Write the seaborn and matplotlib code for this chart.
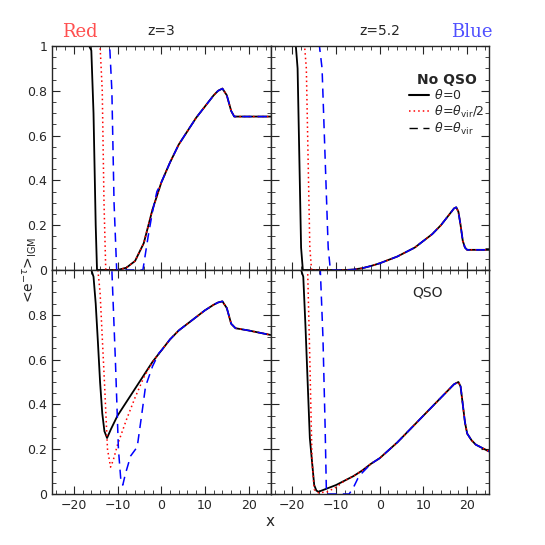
import matplotlib
matplotlib.use("Agg")
import matplotlib.pyplot as plt
import seaborn as sns
import pandas as pd
from matplotlib.lines import Line2D
from matplotlib.ticker import MultipleLocator

sns.set_style("ticks")
plt.rcParams['font.family'] = ['DejaVu Sans']

rise_tl_x = [-8,-6,-4,-2,0,2,4,6,8,10,12,13,14,15,16,16.7,18,25]
rise_tl_y = [0.01,0.04,0.12,0.27,0.39,0.48,0.56,0.62,0.68,0.73,0.78,0.80,0.81,0.78,0.71,0.685,0.685,0.685]
tl_black_x = [-25,-16.5,-16,-15.5,-15,-14.7,-10] + rise_tl_x
tl_black_y = [1,1,0.98,0.7,0.2,0,0] + rise_tl_y
tl_red_x = [-25,-14,-13.5,-13.1,-12.7,-10] + rise_tl_x
tl_red_y = [1,1,0.8,0.3,0,0] + rise_tl_y
tl_blue_x = [-25,-11.8,-11.3,-10.8,-10.2,-4.2,-3,-2,-1] + rise_tl_x[4:]
tl_blue_y = [1,1,0.8,0.3,0,0,0.15,0.26,0.35] + rise_tl_y[4:]

rise_tr_x = [-8,-6,-4,-2,0,2,4,6,8,10,12,14,16,17,17.5,18,18.5,19,19.5,20,25]
rise_tr_y = [0,0.002,0.008,0.018,0.03,0.045,0.06,0.08,0.10,0.13,0.16,0.2,0.25,0.275,0.28,0.26,0.2,0.13,0.1,0.09,0.09]
tr_black_x = [-25,-19.2,-18.8,-18.4,-18,-17.6] + rise_tr_x
tr_black_y = [1,1,0.9,0.5,0.1,0] + rise_tr_y
tr_red_x = [-25,-17.2,-16.8,-16.4,-16,-15.6] + rise_tr_x
tr_red_y = [1,1,0.9,0.5,0.1,0] + rise_tr_y
tr_blue_x = [-25,-13.8,-13.2,-12.5,-11.8,-11.3] + rise_tr_x
tr_blue_y = [1,1,0.9,0.5,0.1,0] + rise_tr_y

rise_bl_x = [-2,0,2,4,6,8,10,12,13,14,15,16,17,20,25]
rise_bl_y = [0.59,0.64,0.69,0.73,0.76,0.79,0.82,0.845,0.855,0.86,0.83,0.76,0.74,0.73,0.71]
bl_black_x = [-25,-16,-15.5,-15,-14.5,-14,-13.5,-13,-12.4,-11.5,-10,-8,-6,-4] + rise_bl_x
bl_black_y = [1,1,0.97,0.85,0.68,0.5,0.36,0.28,0.25,0.29,0.35,0.41,0.47,0.53] + rise_bl_y
bl_red_x = [-25,-14.5,-14,-13,-12.3,-11.6,-11,-10,-8,-6,-4] + rise_bl_x
bl_red_y = [1,1,0.9,0.5,0.2,0.12,0.15,0.22,0.33,0.43,0.52] + rise_bl_y
bl_blue_x = [-25,-11.3,-10.5,-9.8,-9.2,-8.8,-8.2,-7,-5.5,-4.5,-3.6,-2,-0.5] + rise_bl_x[1:]
bl_blue_y = [1,1,0.6,0.2,0.05,0.04,0.09,0.17,0.21,0.35,0.48,0.57,0.63] + rise_bl_y[1:]

rise_br_x = [-8,-6,-4,-2,0,2,4,6,8,10,12,14,16,17,18,18.5,19,19.5,20,21,22,25]
rise_br_y = [0.06,0.08,0.105,0.135,0.16,0.195,0.23,0.27,0.31,0.35,0.39,0.43,0.47,0.49,0.5,0.48,0.4,0.32,0.27,0.24,0.22,0.19]
br_black_x = [-25,-18,-17.5,-17,-16.5,-16,-15,-14.5,-14,-12,-10] + rise_br_x
br_black_y = [1,1,0.97,0.75,0.5,0.25,0.04,0.015,0.01,0.025,0.04] + rise_br_y
br_red_x = [-25,-16.5,-16,-15.5,-15,-14,-12,-10] + rise_br_x
br_red_y = [1,1,0.6,0.15,0.02,0.005,0.01,0.03] + rise_br_y
br_blue_x = [-25,-13.6,-13.0,-12.5,-12.2,-7,-6,-5,-4] + rise_br_x[3:]
br_blue_y = [1,1,0.7,0.3,0,0,0.03,0.07,0.095] + rise_br_y[3:]

panels = [
    [(tl_black_x, tl_black_y), (tl_red_x, tl_red_y), (tl_blue_x, tl_blue_y)],
    [(tr_black_x, tr_black_y), (tr_red_x, tr_red_y), (tr_blue_x, tr_blue_y)],
    [(bl_black_x, bl_black_y), (bl_red_x, bl_red_y), (bl_blue_x, bl_blue_y)],
    [(br_black_x, br_black_y), (br_red_x, br_red_y), (br_blue_x, br_blue_y)],
]
styles = [dict(color='black', linestyle='-', linewidth=1.3),
          dict(color='red', linestyle=(0, (1, 2)), linewidth=1.1),
          dict(color='blue', linestyle=(0, (6, 4)), linewidth=1.1)]

fig = plt.figure(figsize=(5.45, 5.45), dpi=100)
L, R, B, T = 52/545, 489/545, 51/545, 499/545
w = (R-L)/2; h = (T-B)/2
axes = []
for i in range(4):
    r, c = divmod(i, 2)
    ax = fig.add_axes([L + c*w, B + (1-r)*h, w, h])
    axes.append(ax)
    for (xs, ys), st in zip(panels[i], styles):
        df = pd.DataFrame({'x': xs, 'y': ys})
        sns.lineplot(data=df, x='x', y='y', ax=ax, sort=False, estimator=None, **st)
    ax.set_xlim(-25, 25); ax.set_ylim(0, 1)
    ax.set_xlabel(''); ax.set_ylabel('')
    ax.xaxis.set_major_locator(MultipleLocator(10))
    ax.xaxis.set_minor_locator(MultipleLocator(2))
    ax.yaxis.set_major_locator(MultipleLocator(0.2))
    ax.yaxis.set_minor_locator(MultipleLocator(0.05))
    ax.tick_params(which='both', direction='in', top=True, right=True, labelsize=9)
    ax.tick_params(which='major', length=6)
    ax.tick_params(which='minor', length=3)
    if r == 0:
        ax.set_xticklabels([])
        ax.set_yticks([0, 0.2, 0.4, 0.6, 0.8, 1.0])
        ax.set_yticklabels(['0', '0.2', '0.4', '0.6', '0.8', '1'])
    else:
        ax.set_yticks([0, 0.2, 0.4, 0.6, 0.8, 1.0])
        ax.set_yticklabels(['0', '0.2', '0.4', '0.6', '0.8', ''])
        ax.set_xticks([-20, -10, 0, 10, 20])
        ax.set_xticklabels(['−20', '−10', '0', '10', '20'])
    if c == 1:
        ax.set_yticklabels([])
    for s in ax.spines.values():
        s.set_linewidth(1.0)

axes[0].set_title('z=3', fontsize=10, pad=8)
axes[1].set_title('z=5.2', fontsize=10, pad=8)
fig.text(80/545, 1-32/545, 'Red', color='#ff5050', fontsize=13, family='DejaVu Serif', ha='center', va='center')
fig.text(472/545, 1-32/545, 'Blue', color='#5050ff', fontsize=13, family='DejaVu Serif', ha='center', va='center')
axes[3].text(0.72, 0.88, 'QSO', transform=axes[3].transAxes, fontsize=10, ha='center')

handles = [Line2D([], [], color='black', linestyle='-', linewidth=1.5),
           Line2D([], [], color='red', linestyle=(0, (1, 2)), linewidth=1.1),
           Line2D([], [], color='black', linestyle=(0, (6, 4)), linewidth=1.0)]
labels = [r'$\theta\!=\!0$', r'$\theta\!=\!\theta_{\rm vir}/2$', r'$\theta\!=\!\theta_{\rm vir}$']
leg = axes[1].legend(handles, labels, title='No QSO', loc='upper right', bbox_to_anchor=(1.03, 0.93),
                     frameon=False, fontsize=9, handlelength=1.6, handletextpad=0.4, labelspacing=0.1)
leg.get_title().set_fontweight('bold')
leg.get_title().set_fontsize(10)

fig.text(270/545, 1-522/545, 'x', fontsize=11, ha='center', va='center')
fig.text(30/545, 1-270/545, r'<e$^{-\tau}$>$_{\rm IGM}$', fontsize=10, rotation=90, ha='center', va='center')

fig.savefig('out.png', dpi=100)
